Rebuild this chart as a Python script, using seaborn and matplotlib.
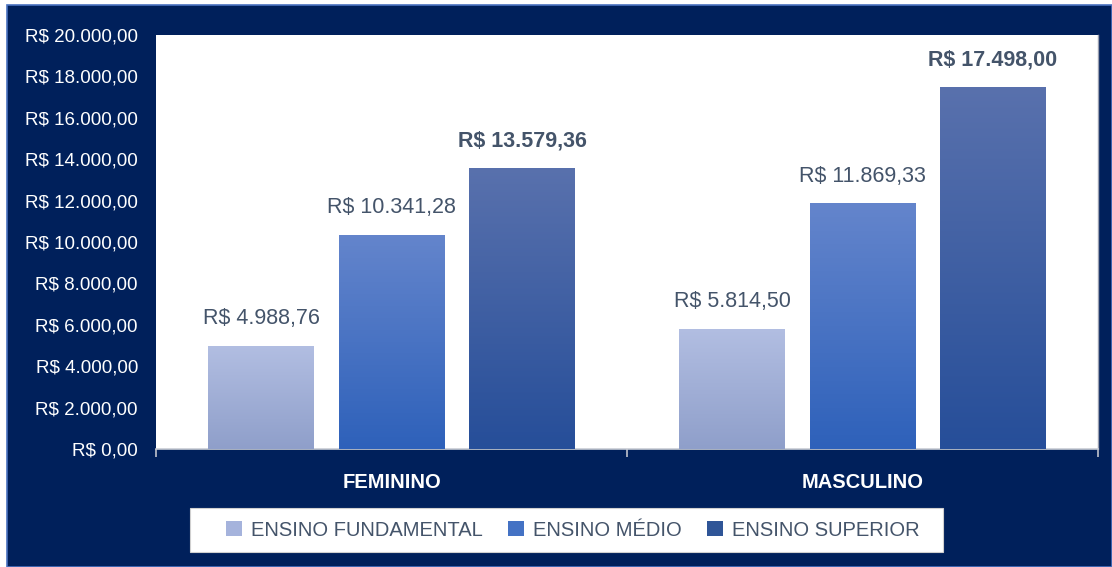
import numpy as np
import pandas as pd
import matplotlib
matplotlib.use("Agg")
import matplotlib.pyplot as plt
from matplotlib.patches import Rectangle
from matplotlib.colors import LinearSegmentedColormap
import seaborn as sns

# ---- data ----
sexes = ["FEMININO", "MASCULINO"]
levels = ["ENSINO FUNDAMENTAL", "ENSINO MÉDIO", "ENSINO SUPERIOR"]
fundamental = [4988.76, 5814.50]
medio = [10341.28, 11869.33]
superior = [13579.36, 17498.00]
y_ticks = [0, 2000, 4000, 6000, 8000, 10000, 12000, 14000, 16000, 18000, 20000]

def brl(v):
    s = f"{v:,.2f}"
    s = s.replace(",", "X").replace(".", ",").replace("X", ".")
    return "R$ " + s

df = pd.DataFrame({
    "sexo": sexes * 3,
    "nivel": [levels[0]] * 2 + [levels[1]] * 2 + [levels[2]] * 2,
    "valor": fundamental + medio + superior,
})

sns.set_style("white")
plt.rcParams["font.family"] = ["Liberation Sans Narrow", "Liberation Sans", "DejaVu Sans"]

NAVY = "#00205b"
mid_colors = ["#a5b3dc", "#4472c4", "#2f5597"]
grad = [("#b2bee2", "#8f9fca"), ("#6485cc", "#2e61ba"), ("#5971ad", "#264e99")]
label_color = "#44546a"

fig = plt.figure(figsize=(11.12, 5.67), dpi=100)
fig.patch.set_facecolor("white")
# navy frame
fig.add_artist(Rectangle((7 / 1112, 0), 1 - 7 / 1112, (567 - 5) / 567,
                         transform=fig.transFigure, facecolor=NAVY,
                         edgecolor="#4a72c0", linewidth=1.2, zorder=0))

ax = fig.add_axes([156 / 1112, (567 - 449) / 567, (1098 - 156) / 1112, (449 - 35) / 567])
ax.set_facecolor("white")

sns.barplot(data=df, x="sexo", y="valor", hue="nivel", order=sexes, hue_order=levels,
            palette=mid_colors, width=0.831, gap=0.188, legend=False, ax=ax,
            saturation=1, zorder=2)

# gradient fills clipped to bars
for i, cont in enumerate(ax.containers):
    cmap = LinearSegmentedColormap.from_list(f"g{i}", [grad[i][1], grad[i][0]])
    for bar in cont:
        x0 = bar.get_x()
        w = bar.get_width()
        h = bar.get_height()
        img = ax.imshow(np.linspace(0, 1, 256).reshape(-1, 1), cmap=cmap, aspect="auto",
                        origin="lower", extent=[x0, x0 + w, 0, h], zorder=3)
        img.set_clip_path(bar)
        bar.set_edgecolor("none")
    labels = [brl(b.get_height()) for b in cont]
    ax.bar_label(cont, labels=labels, padding=12, color=label_color, fontsize=15.5,
                 fontweight="bold" if i == 2 else "normal", zorder=4)
ax.set_xlim(-0.5, 1.5)
ax.set_ylim(0, 20000)

# axes styling
ax.set_yticks(y_ticks)
ax.set_yticklabels([brl(v) for v in y_ticks], color="white", fontsize=13.5)
ax.set_xticks([0, 1])
ax.set_xticklabels(sexes, color="white", fontsize=14.5, fontweight="bold")
ax.tick_params(axis="x", which="major", length=0, pad=17)
ax.tick_params(axis="y", length=0, pad=13)
ax.set_xticks([-0.5, 0.5, 1.5], minor=True)
ax.tick_params(axis="x", which="minor", bottom=True, length=6, color="#bfc3cc",
               width=1.2, direction="out")
ax.set_xlabel("")
ax.set_ylabel("")
for side in ["left", "top"]:
    ax.spines[side].set_visible(False)
ax.spines["bottom"].set_color("#c8ccd4")
ax.spines["bottom"].set_linewidth(1.2)
ax.spines["right"].set_color("#9a9fb0")
ax.spines["right"].set_linewidth(1)

# legend box
fig.add_artist(Rectangle((190 / 1112, (567 - 552) / 567), (943 - 190) / 1112, 44 / 567,
                         transform=fig.transFigure, facecolor="white",
                         edgecolor="#d0d0d0", linewidth=0.8, zorder=1))
handles = [Rectangle((0, 0), 1, 1, facecolor=c, edgecolor="none") for c in mid_colors]
leg = fig.legend(handles, levels, loc="center", bbox_to_anchor=(573 / 1112, 37 / 567),
                 ncol=3, frameon=False, fontsize=14.5, handlelength=0.8, handleheight=0.8,
                 handletextpad=0.45, columnspacing=1.25)
for t in leg.get_texts():
    t.set_color(label_color)

fig.savefig("out.png", dpi=100)
